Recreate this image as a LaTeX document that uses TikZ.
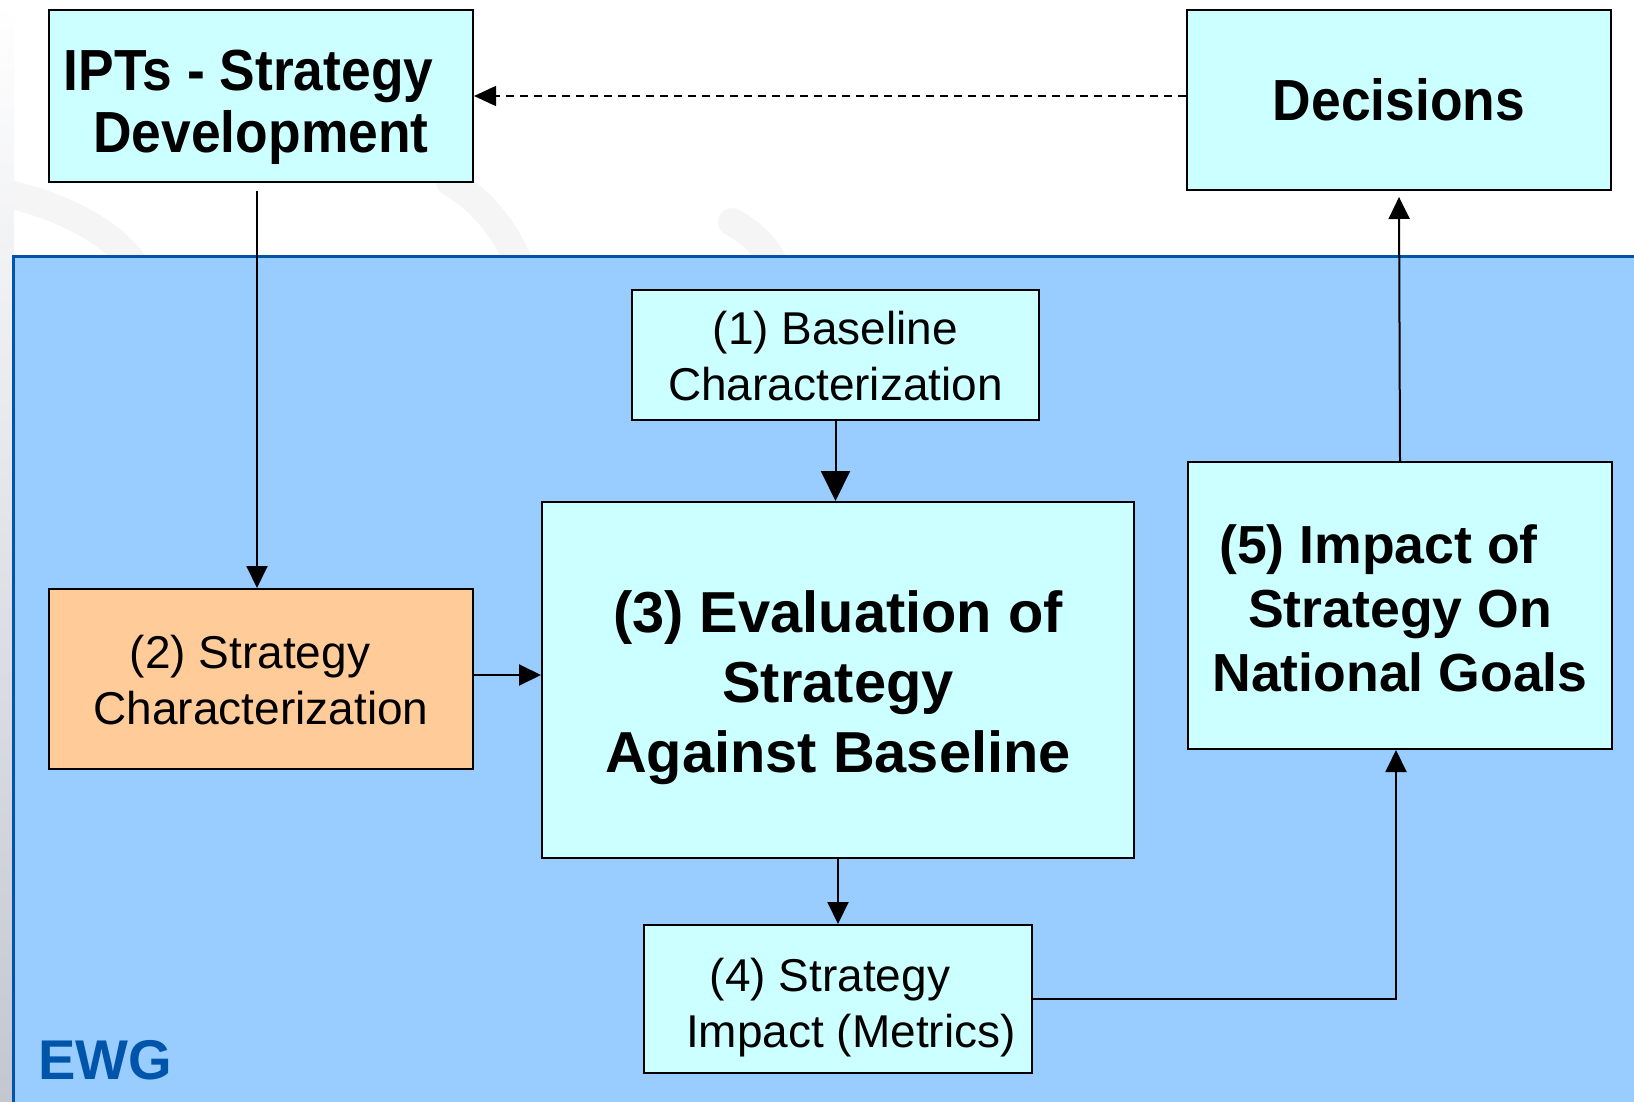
\documentclass[tikz,border=0pt]{standalone}
\usepackage{fontspec}
\setmainfont{Liberation Sans}
\newfontfamily\condfont[FakeStretch=0.92]{Liberation Sans}
\usetikzlibrary{arrows.meta}

\definecolor{boxcyan}{RGB}{204,255,255}
\definecolor{boxorange}{RGB}{255,204,153}
\definecolor{panelblue}{RGB}{153,204,255}
\definecolor{panelline}{RGB}{0,85,170}
\definecolor{ewgblue}{RGB}{0,85,170}
\definecolor{stripgray}{RGB}{196,198,210}

\tikzset{
  box/.style={draw=black, line width=1pt, fill=boxcyan, inner sep=0pt},
  boxtext/.style={inner sep=0pt, align=center},
  condbig/.style={font=\condfont\bfseries\fontsize{29}{31}\selectfont},
  evalfont/.style={font=\bfseries\fontsize{28.9}{35}\selectfont},
  impfont/.style={font=\bfseries\fontsize{26.8}{32}\selectfont},
  plainfont/.style={font=\fontsize{23}{28}\selectfont},
  arr/.style={line width=1pt, -{Triangle[length=11pt,width=10.5pt]}},
  bigarr/.style={line width=1pt, -{Triangle[length=15pt,width=14.5pt]}},
  swirl/.style={black!4, line width=14pt, line cap=round},
}

\begin{document}
\begin{tikzpicture}[x=0.5pt,y=-0.5pt]
  \useasboundingbox (0,0) rectangle (1634,1102);
  \fill[white] (0,0) rectangle (1634,1102);

  % soft swirl strokes in the white band
  \draw[swirl] (0,192) .. controls (60,205) and (110,230) .. (135,265);
  \draw[swirl] (450,182) .. controls (482,200) and (505,230) .. (520,265);
  \draw[swirl] (732,222) .. controls (750,232) and (765,245) .. (775,265);

  % grey strip at the left edge
  \shade[top color=white, bottom color=stripgray] (0,0) rectangle (14,1102);

  % EWG panel
  \fill[panelblue] (13.5,256) rectangle (1640,1110);
  \draw[panelline, line width=1.5pt] (13.5,1110) -- (13.5,256) -- (1640,256);

  % boxes
  \node[box, minimum width=212pt, minimum height=86pt] (ipt) at (261,96) {};
  \node[box, minimum width=212pt, minimum height=90pt] (dec) at (1399,100) {};
  \node[box, minimum width=203.5pt, minimum height=65pt] (base) at (835.5,355) {};
  \node[box, minimum width=296pt, minimum height=178pt] (eval) at (838,680) {};
  \node[box, fill=boxorange, minimum width=212pt, minimum height=90pt] (strat) at (261,679) {};
  \node[box, minimum width=212pt, minimum height=143.5pt] (imp) at (1400,605.5) {};
  \node[box, minimum width=194pt, minimum height=74pt] (metr) at (838,999) {};

  % box captions
  \node[boxtext, condbig] (ipt-t) at ([yshift=-5.75pt]ipt.center)
    {IPTs - Strategy\hspace*{12.5pt}\\Development};
  \node[boxtext, condbig] (dec-t) at (dec.center) {Decisions};
  \node[boxtext, plainfont] (base-t) at ([yshift=-0.5pt]base.center)
    {(1) Baseline\\Characterization};
  \node[boxtext, evalfont] (eval-t) at ([yshift=-3.6pt]eval.center)
    {(3) Evaluation of\\Strategy\\Against Baseline};
  \node[boxtext, plainfont] (strat-t) at ([yshift=-0.5pt]strat.center)
    {(2) Strategy\hspace*{11pt}\\Characterization};
  \node[boxtext, impfont] (imp-t) at ([yshift=-1.6pt]imp.center)
    {(5) Impact of\hspace*{21.5pt}\\Strategy On\\National Goals};
  \node[boxtext, plainfont] (metr-t) at ([yshift=-4.2pt]metr.center)
    {(4) Strategy\hspace*{8pt}\\\hspace*{13pt}Impact (Metrics)};

  \node[font=\bfseries\fontsize{28}{32}\selectfont, text=ewgblue, inner sep=0pt] (ewg) at (105,1060) {EWG};

  % connectors
  \draw[line width=0.75pt, dash pattern=on 4pt off 3pt, -{Triangle[length=11pt,width=10pt]}]
    (dec.west |- ipt.east) -- (ipt.east);
  \draw[arr, shorten <=4pt] ([xshift=-2pt]ipt.south) -- ([xshift=-2pt]strat.north);
  \draw[bigarr] (base.south) -- (base.south |- eval.north);
  \draw[arr] ([yshift=2pt]strat.east) -- ([yshift=2pt]strat.east -| eval.west);
  \draw[arr] (eval.south) -- (metr.north);
  \draw[arr] (metr.east) -| ([xshift=-2pt]imp.south);
  \draw[arr, shorten >=3pt] (imp.north) -- (dec.south);
\end{tikzpicture}
\end{document}
